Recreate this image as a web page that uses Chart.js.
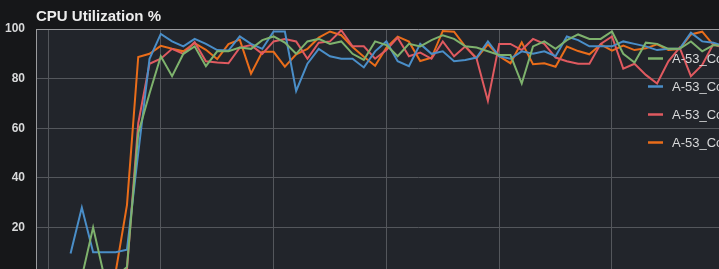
<!DOCTYPE html>
<html lang="en">
<head>
  <meta charset="UTF-8">
  <title>CPU Utilization %</title>
  <script src="https://cdn.jsdelivr.net/npm/chart.js"></script>
  <style>
    html, body { margin: 0; padding: 0; background: #161719; overflow: hidden; }
    #wrap { width: 800px; height: 300px; }
  </style>
</head>
<body>
  <div id="wrap"><canvas id="cpuChart" width="800" height="300"></canvas></div>

  <script>
    // sample index (x axis)
    const samples = [0, 1, 2, 3, 4, 5, 6, 7, 8, 9, 10, 11, 12, 13, 14, 15, 16, 17, 18, 19,
      20, 21, 22, 23, 24, 25, 26, 27, 28, 29, 30, 31, 32, 33, 34, 35, 36, 37, 38, 39,
      40, 41, 42, 43, 44, 45, 46, 47, 48, 49, 50, 51, 52, 53, 54, 55, 56, 57, 58, 59, 60];

    const seriesNames = ["A-53_Core0", "A-53_Core1", "A-53_Core2", "A-53_Core3"];
    const seriesColors = ["#7eb26d", "#4a8ec8", "#e05a60", "#ea6d1a"];

    const core0 = [0, 0, 0, 0, 20, 0, 0, 4, 58, 74, 89, 81, 90, 93, 85, 91, 91, 92.5, 92, 95.5,
      97, 94.5, 90, 95, 96, 94, 95, 90, 87.5, 95, 93.5, 89, 94, 93, 95.5, 97.5, 96, 93, 92.5, 91,
      89.5, 89.5, 78, 93, 95, 92, 95.5, 97.8, 96, 96, 99, 90, 86.5, 94.5, 94, 92, 92, 95, 91, 93.5, 93];
    const core1 = [null, null, 9.5, 28, 10, 10, 10, 11, 50, 88, 98, 95, 93, 96, 94, 91.5, 91.3, 97, 94, 92,
      99, 99, 75, 86, 92, 89, 88, 88, 84.5, 91, 95, 87, 85, 94, 90, 91, 87, 87.5, 88.5, 95,
      89, 88, 91, 90, 91, 89, 97, 95.5, 93, 93, 93, 95, 94, 93, 91.5, 92, 92, 98.5, 95, 94.5, 93];
    const core2 = [0, 0, 0, 0, 0, 0, 0, 3, 62, 86, 88, 92, 90, 94.7, 87, 86.5, 86.2, 92.5, 93.5, 90,
      95, 96, 95, 88, 94.5, 95, 99.5, 93, 93, 88, 91.5, 96.5, 89, 90.5, 88, 95, 89, 93, 88, 71,
      94, 94, 91.5, 96, 94, 88.5, 87, 86, 86, 94, 97, 84, 86, 81.5, 78, 87, 92.5, 81, 85.5, 94, 92];
    const core3 = [0, 0, 0, 0, 0, 0, 2, 29, 88.7, 90, 93.2, 92, 91, 94.3, 91.6, 87.9, 93.9, 95.7, 82, 90.8,
      90.8, 84.8, 89.8, 92, 96.5, 99, 97.5, 92.7, 88.8, 85.2, 92.5, 96.9, 94.9, 87.1, 88.4, 99.2, 98.9, 92.9, 88.2, 93.8,
      89, 86.2, 94.6, 85.8, 86.2, 84.8, 92.9, 91.1, 89.8, 93.8, 91.3, 93.3, 91.5, 92.2, 93.8, 91.5, 91.9, 97.8, 98.9, 93.5, 93];

    const yTicks = [0, 20, 40, 60, 80, 100];

    const fontFamily = "'Liberation Sans', Arial, sans-serif";

    // dark plot background
    const plotBg = {
      id: "plotBg",
      beforeDraw(chart) {
        const { ctx, chartArea: a } = chart;
        ctx.save();
        ctx.fillStyle = "#22252b";
        ctx.fillRect(a.left, a.top, a.right - a.left, a.bottom - a.top);
        ctx.restore();
      }
    };

    // legend drawn over the right side of the plot
    const overlayLegend = {
      id: "overlayLegend",
      afterDraw(chart) {
        const ctx = chart.ctx;
        ctx.save();
        ctx.font = "13px " + fontFamily;
        ctx.textBaseline = "middle";
        chart.data.datasets.forEach((ds, i) => {
          const y = 58.5 + i * 28;
          ctx.strokeStyle = ds.borderColor;
          ctx.lineWidth = 2.5;
          ctx.beginPath();
          ctx.moveTo(648, y);
          ctx.lineTo(663, y);
          ctx.stroke();
          ctx.fillStyle = "#d8d9da";
          ctx.fillText(ds.label, 672, y + 0.5);
        });
        ctx.restore();
      }
    };

    const datasets = [core0, core1, core2, core3].map((values, i) => ({
      label: seriesNames[i],
      data: values,
      borderColor: seriesColors[i],
      backgroundColor: seriesColors[i],
      borderWidth: 2,
      pointRadius: 0,
      tension: 0,
      spanGaps: false
    }));

    new Chart(document.getElementById("cpuChart"), {
      type: "line",
      data: { labels: samples, datasets: datasets },
      plugins: [plotBg, overlayLegend],
      options: {
        responsive: false,
        animation: false,
        layout: { padding: 0 },
        plugins: {
          legend: { display: false },
          tooltip: { enabled: false },
          title: {
            display: true,
            text: "CPU Utilization %",
            align: "start",
            fullSize: false,
            color: "#ececec",
            font: { family: fontFamily, size: 15, weight: "bold" },
            padding: { top: 8, bottom: 3 }
          }
        },
        scales: {
          x: {
            type: "linear",
            min: -1.064,
            max: 66.67,
            afterFit(scale) { scale.height = 23; },
            ticks: { display: false, stepSize: 10, includeBounds: false },
            grid: { color: "#54575c", drawTicks: false },
            border: { display: false }
          },
          y: {
            min: 0,
            max: 100,
            afterFit(scale) { scale.width = 36; },
            afterBuildTicks(scale) { scale.ticks = yTicks.map(v => ({ value: v })); },
            ticks: {
              color: "#d8d9da",
              padding: 11,
              font: { family: fontFamily, size: 12, weight: "bold" }
            },
            grid: {
              drawTicks: false,
              color: ctx => ctx.tick && ctx.tick.value === 100 ? "#9a9b9e" : "#54575c"
            },
            border: { color: "#9a9b9e", width: 1 }
          }
        }
      }
    });
  </script>
</body>
</html>
